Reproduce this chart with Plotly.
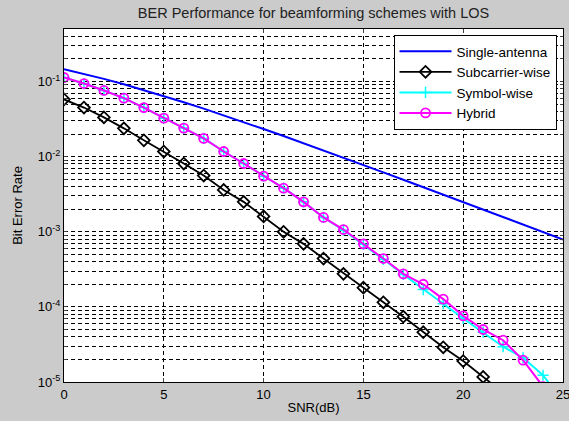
import plotly.graph_objects as go

snr = list(range(0, 26))

single_antenna = [0.146, 0.1267, 0.1085, 0.0919, 0.0771, 0.0642, 0.0530, 0.0435, 0.0355,
                  0.0288, 0.0233, 0.0188, 0.0151, 0.0121, 0.00967, 0.00773, 0.00617,
                  0.00492, 0.00392, 0.00312, 0.00248, 0.00197, 0.00157, 0.00125,
                  0.00099, 0.00079]

snr_sub = list(range(0, 23))
subcarrier = [0.0577, 0.045, 0.0333, 0.0238, 0.0165, 0.0117, 0.0081, 0.0056, 0.0036,
              0.0025, 0.0016, 0.00100, 0.00069, 0.00044, 0.000275, 0.00018, 0.000115,
              0.000074, 0.000046, 0.000029, 0.000019, 0.0000117, 0.0000072]

snr_sym = list(range(0, 26))
symbolwise = [0.113, 0.094, 0.076, 0.060, 0.045, 0.0325, 0.024, 0.0175, 0.0117, 0.0081,
              0.0055, 0.0038, 0.0025, 0.00155, 0.00105, 0.00068, 0.00043, 0.00027,
              0.00017, 0.00011, 0.000070, 0.000046, 0.0000295, 0.000021, 0.0000123,
              0.0000055]

snr_hyb = list(range(0, 25))
hybrid = [0.113, 0.094, 0.076, 0.060, 0.045, 0.0325, 0.024, 0.0175, 0.0117, 0.0081,
          0.0055, 0.0038, 0.0025, 0.00155, 0.00107, 0.00069, 0.00044, 0.000275,
          0.00020, 0.000127, 0.000076, 0.000050, 0.000036, 0.0000195, 0.0000087]

xticks = [0, 5, 10, 15, 20, 25]
decades = [-5, -4, -3, -2, -1]

fig = go.Figure()
fig.add_trace(go.Scatter(x=snr, y=single_antenna, mode="lines", name="Single-antenna",
                         line=dict(color="#0000ff", width=2)))
fig.add_trace(go.Scatter(x=snr_sub, y=subcarrier, mode="lines+markers", name="Subcarrier-wise",
                         line=dict(color="black", width=1.8),
                         marker=dict(symbol="diamond-open", size=9, color="black",
                                     line=dict(width=1.8, color="black"))))
fig.add_trace(go.Scatter(x=snr_sym, y=symbolwise, mode="lines+markers", name="Symbol-wise",
                         line=dict(color="#00ffff", width=2),
                         marker=dict(symbol="cross-thin", size=8, color="#00ffff",
                                     line=dict(width=1.5, color="#00ffff"))))
fig.add_trace(go.Scatter(x=snr_hyb, y=hybrid, mode="lines+markers", name="Hybrid",
                         line=dict(color="#ff00ff", width=2),
                         marker=dict(symbol="circle-open", size=9, color="#ff00ff",
                                     line=dict(width=1.8, color="#ff00ff"))))

tickvals = []
ticktext = []
for d in decades:
    for m in range(1, 10):
        tickvals.append(m * 10.0 ** d)
        ticktext.append(f"10<sup>{d}</sup>" if m == 1 else "")
for m in range(1, 6):
    tickvals.append(m * 0.1)
    ticktext.append("")

font = "Liberation Sans, Arial, sans-serif"
fig.update_layout(
    width=569, height=421,
    paper_bgcolor="#cbcbcb", plot_bgcolor="white",
    margin=dict(l=64, r=6, t=29, b=39, autoexpand=False),
    font=dict(family=font, size=13, color="black"),
    title=dict(text="BER Performance for beamforming schemes with LOS",
               x=0.5, xref="paper", xanchor="center", y=0.969, yanchor="middle",
               font=dict(size=14.5, color="#222222"), automargin=False),
    showlegend=True,
    legend=dict(x=0.987, xanchor="right", y=0.983, yanchor="top",
                bgcolor="white", bordercolor="black", borderwidth=1,
                font=dict(size=13.5, family=font), tracegroupgap=0,
                itemwidth=52),
    xaxis=dict(range=[0, 25], tickvals=xticks, ticks="inside", ticklen=4,
               showline=True, linecolor="black", linewidth=1, mirror="ticks",
               showgrid=True, gridcolor="black", griddash="4px,3px", gridwidth=1,
               zeroline=False, automargin=False, ticklabeloverflow="allow",
               title=dict(text="SNR(dB)", standoff=2, font=dict(size=13))),
    yaxis=dict(type="log", range=[-5, -0.301], tickvals=tickvals, ticktext=ticktext,
               ticks="inside", ticklen=3,
               showline=True, linecolor="black", linewidth=1, mirror="ticks",
               showgrid=True, gridcolor="black", griddash="4px,3px", gridwidth=1,
               zeroline=False, automargin=False,
               title=dict(text="Bit Error Rate", standoff=12, font=dict(size=13))),
)

fig.write_html("out.html", config={"displayModeBar": False},
               post_script="document.body.style.margin='0px';")
